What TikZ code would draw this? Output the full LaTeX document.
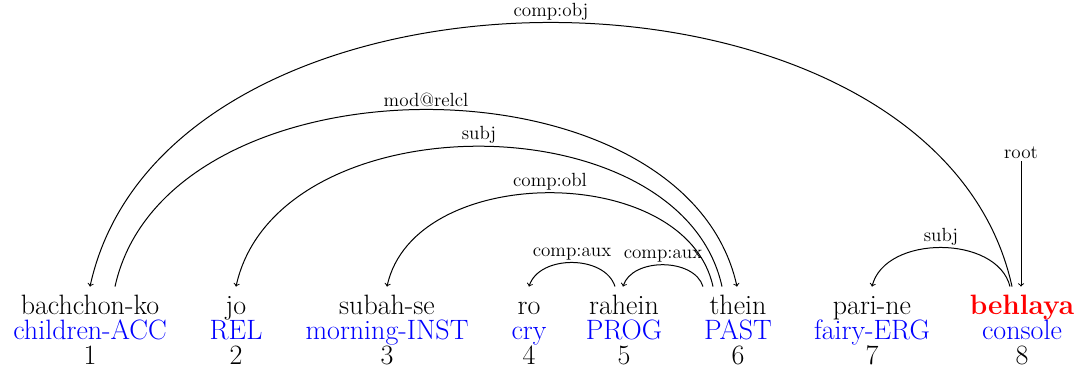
\documentclass[tikz,border=0pt]{standalone}
\usepackage{fontspec}
\usetikzlibrary{calc}

\tikzset{every picture/.style={line width=0.75pt}}
\tikzset{
  rowtxt/.style={font=\fontsize{21}{24}\selectfont, anchor=base, inner sep=0pt, text depth=0pt},
  wordtxt/.style={rowtxt, text height=20.2pt},
  glosstxt/.style={rowtxt, text=blue},
  deplabel/.style={font=\fontsize{14.3}{16}\selectfont, above, inner sep=1.5pt},
}

\begin{document}
\begin{tikzpicture}[x=0.75pt,y=0.75pt,yscale=-1,xscale=1]
\useasboundingbox (0,0) rectangle (1077,374);

% Words
\node[wordtxt] (w1) at (90,314) {bachchon-ko};
\node[wordtxt] (w2) at (236,314) {jo};
\node[wordtxt] (w3) at (387,314) {subah-se};
\node[wordtxt] (w4) at (529,314) {ro};
\node[wordtxt] (w5) at (624,314) {rahein};
\node[wordtxt] (w6) at (738,314) {thein};
\node[wordtxt] (w7) at (872,314) {pari-ne};
\node[wordtxt, text=red] (w8) at (1022,314) {\textbf{behlaya}};

% Glosses
\node[glosstxt] (g1) at (90,339) {children-ACC};
\node[glosstxt] (g2) at (236,339) {REL};
\node[glosstxt] (g3) at (387,339) {morning-INST};
\node[glosstxt] (g4) at (529,339) {cry};
\node[glosstxt] (g5) at (624,339) {PROG};
\node[glosstxt] (g6) at (738,339) {PAST};
\node[glosstxt] (g7) at (872,339) {fairy-ERG};
\node[glosstxt] (g8) at (1022,339) {console};

% Indices
\node[rowtxt] (n1) at (90,364) {1};
\node[rowtxt] (n2) at (236,364) {2};
\node[rowtxt] (n3) at (387,364) {3};
\node[rowtxt] (n4) at (529,364) {4};
\node[rowtxt] (n5) at (624,364) {5};
\node[rowtxt] (n6) at (738,364) {6};
\node[rowtxt] (n7) at (872,364) {7};
\node[rowtxt] (n8) at (1022,364) {8};

% Arcs
\draw[->] ($(w8.north)+(-10,0)$) .. controls +(-77,-352) and +(77,-352) .. (w1.north) node[deplabel, pos=0.5] {comp:obj};
\draw[->] ($(w1.north)+(25,0)$) .. controls +(52,-236) and +(-52,-236) .. ($(w6.north)+(-1,0)$) node[deplabel, pos=0.5] {mod@relcl};
\draw[->] ($(w6.north)+(-16,0)$) .. controls +(-41,-187) and +(41,-187) .. (w2.north) node[deplabel, pos=0.5] {subj};
\draw[->] ($(w6.north)+(-25,0)$) .. controls +(-27,-125) and +(27,-125) .. (w3.north) node[deplabel, pos=0.5] {comp:obl};
\draw[->] ($(w5.north)+(-9,0)$) .. controls +(-10,-32) and +(10,-32) .. (w4.north) node[deplabel, pos=0.5] {comp:aux};
\draw[->] ($(w6.north)+(-35,0)$) .. controls +(-9,-29) and +(9,-29) .. ($(w5.north)+(-1,0)$) node[deplabel, pos=0.5] {comp:aux};
\draw[->] ($(w8.north)+(-12,0)$) .. controls +(-13,-52) and +(13,-52) .. (w7.north) node[deplabel, pos=0.5] {subj};

% Root
\node[font=\fontsize{14.3}{16}\selectfont, inner sep=1.5pt] (root) at (1021,153) {root};
\draw[->] (root.south) -- (root.south |- w8.north);

\end{tikzpicture}
\end{document}
